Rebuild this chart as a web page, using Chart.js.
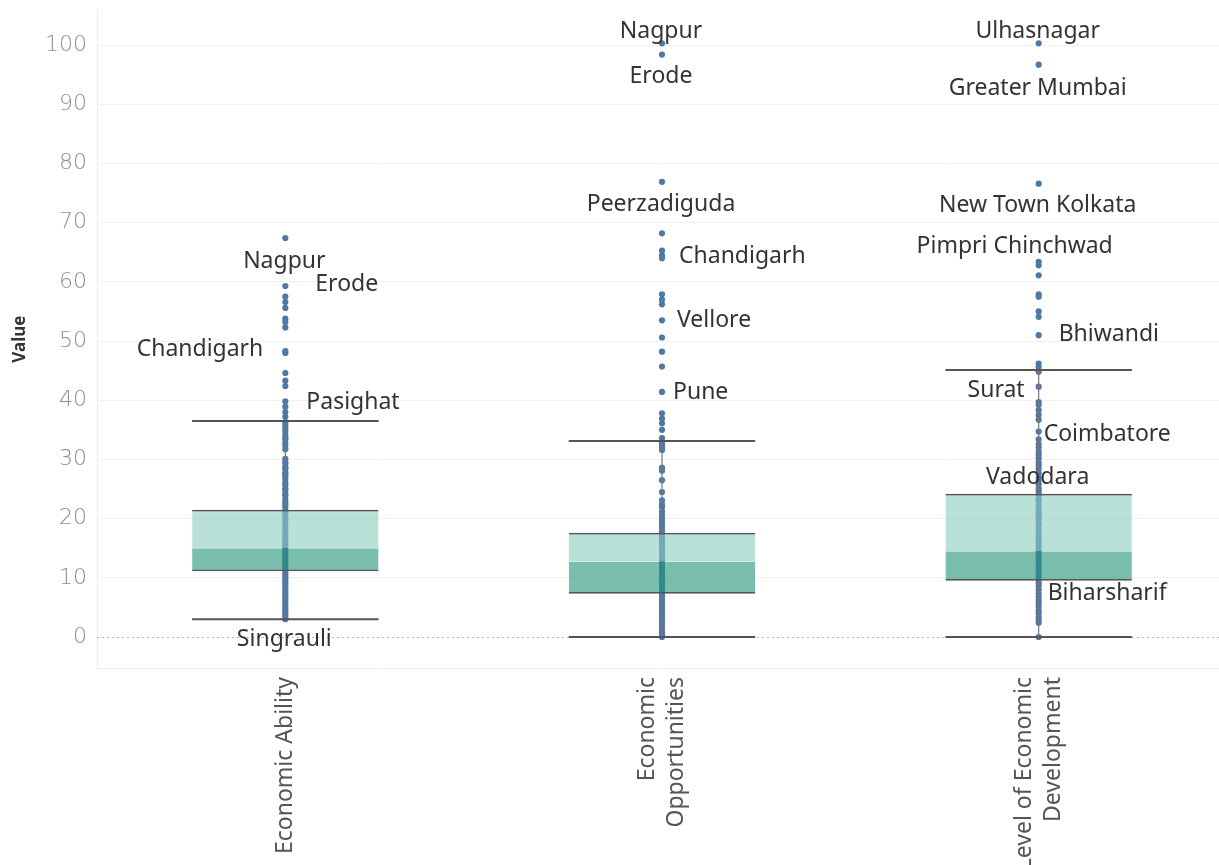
<!DOCTYPE html>
<html>
<head>
<meta charset="utf-8">
<script src="https://cdn.jsdelivr.net/npm/chart.js@4.4.1/dist/chart.umd.min.js"></script>
<style>
  html, body { margin: 0; padding: 0; background: #fff; overflow: hidden; }
  #wrap { width: 1231px; height: 865px; }
</style>
</head>
<body>
<div id="wrap"><canvas id="chart" width="1231" height="865"></canvas></div>
<script>
// Indicator categories (x axis), one line per array entry
const categories = ['Economic Ability', 'Economic Opportunities', 'Level of Economic Development'];
const categoryLines = [['Economic Ability'], ['Economic', 'Opportunities'], ['Level of Economic', 'Development']];

// City scores per indicator
const economicAbility = [67.4, 59.3, 57.5, 56.6, 55.6, 53.8, 53.2, 52.3, 48.3, 48.0, 44.6, 43.3, 42.4, 39.8, 38.9, 38.0, 37.2,
  36.3, 35.8, 35.3, 34.9, 34.2, 33.7, 33.4, 32.8, 32.3, 31.7, 30.1, 29.6, 29.3, 28.7, 28.4, 27.8, 27.5, 27.1, 26.6, 26.0,
  25.7, 25.1, 24.8, 24.2, 23.9, 23.3, 22.8, 22.4, 21.9, 21.3, 20.9, 20.2, 19.8, 19.1, 18.7, 18.0, 17.6, 17.1, 16.5, 16.0,
  15.6, 15.1, 14.7, 14.2, 13.8, 13.3, 12.9, 12.4, 11.9, 11.5, 11.0, 10.6, 10.1, 9.7, 9.2, 8.8, 8.3, 7.9, 7.4, 6.9, 6.5,
  6.0, 5.6, 5.1, 4.7, 4.2, 3.8, 3.4, 3.0];
const economicOpportunities = [100.3, 98.4, 76.9, 68.2, 65.3, 64.5, 64.0, 57.9, 57.0, 56.2, 53.5, 50.6, 48.2, 45.7, 41.4,
  37.8, 36.9, 36.1, 35.0, 33.6, 32.9, 32.5, 32.0, 31.6, 28.6, 28.1, 26.5, 24.5, 23.1, 22.4, 21.9, 21.2, 20.6, 20.0, 19.5,
  19.0, 18.4, 17.9, 17.3, 16.8, 16.2, 15.7, 15.1, 14.6, 14.0, 13.5, 12.9, 12.4, 11.8, 11.3, 10.7, 10.2, 9.6, 9.1, 8.5,
  8.0, 7.4, 6.9, 6.3, 5.8, 5.2, 4.7, 4.1, 3.6, 3.0, 2.5, 1.9, 1.4, 0.8, 0.3, 0.0];
const levelOfDevelopment = [100.3, 96.7, 76.6, 63.4, 62.8, 61.1, 57.9, 57.5, 55.0, 54.1, 51.0, 46.2, 45.6, 44.8, 42.3,
  39.7, 39.2, 38.3, 37.5, 36.7, 34.7, 33.4, 32.6, 32.0, 31.3, 30.8, 30.2, 29.5, 29.0, 28.4, 27.7, 26.9, 26.4, 25.8, 25.1,
  24.6, 24.0, 23.4, 22.9, 22.2, 21.7, 21.0, 20.5, 19.9, 19.3, 18.8, 18.1, 17.6, 17.0, 16.4, 15.9, 15.3, 14.7, 14.2, 13.6,
  13.1, 12.5, 11.9, 11.4, 10.8, 10.3, 9.7, 9.1, 8.6, 8.0, 7.3, 6.8, 6.2, 5.7, 5.1, 4.5, 4.0, 3.4, 2.9, 2.4, 0.0];

// Box plot statistics per indicator
const whiskerLow  = [3.0, 0.0, 0.0];
const quartile1   = [11.1, 7.3, 9.5];
const median      = [15.0, 12.7, 14.5];
const quartile3   = [21.5, 17.6, 24.2];
const whiskerHigh = [36.5, 33.1, 45.1];

// Named cities (category index, name, score)
const labelCategory = [0, 0, 0, 0, 0, 1, 1, 1, 1, 1, 1, 2, 2, 2, 2, 2, 2, 2, 2, 2];
const labelText = ['Nagpur', 'Erode', 'Chandigarh', 'Pasighat', 'Singrauli',
  'Nagpur', 'Erode', 'Peerzadiguda', 'Chandigarh', 'Vellore', 'Pune',
  'Ulhasnagar', 'Greater Mumbai', 'New Town Kolkata', 'Pimpri Chinchwad', 'Bhiwandi', 'Surat', 'Coimbatore', 'Vadodara', 'Biharsharif'];
const labelValue = [67.4, 59.3, 48.3, 39.8, 3.0,
  100.3, 98.4, 76.9, 64.5, 53.5, 41.4,
  100.3, 96.7, 76.6, 63.4, 51.0, 42.3, 34.7, 26.9, 7.3];

// y tick values
const yTicks = [0, 10, 20, 30, 40, 50, 60, 70, 80, 90, 100];

// Label placement: [align, dx, dy] relative to the point
const labelPlacement = [
  ['center', -1, 23], ['left', 30, -2], ['right', -22, -2], ['left', 21, 1], ['center', -1, 20],
  ['center', -1, -12], ['center', -1, 22], ['center', -1, 23], ['left', 17, 1], ['left', 15, 0], ['left', 11, 0],
  ['center', -1, -12], ['center', -1, 24], ['center', -1, 22], ['center', -24, -15], ['left', 20, -1], ['right', -14, 4],
  ['left', 5, 3], ['center', -1, 0], ['left', 9, 0]
];

const series = [economicAbility, economicOpportunities, levelOfDevelopment];
const pointColor = '#4e79a7';
const LABEL_FONT = '23px "Noto Sans", "Open Sans", sans-serif';

const scatterSets = series.map((vals, i) => ({
  type: 'scatter',
  data: vals.map(v => ({ x: categories[i], y: v })),
  backgroundColor: pointColor,
  borderColor: pointColor,
  borderWidth: 0,
  pointRadius: 3.1,
  order: 3
}));

const upperBox = {
  type: 'bar',
  data: categories.map((c, i) => [median[i], quartile3[i]]),
  backgroundColor: 'rgba(138,205,190,0.6)',
  borderColor: '#555',
  borderWidth: { top: 1.8, bottom: 0, left: 0, right: 0 },
  borderSkipped: false,
  grouped: false,
  barPercentage: 0.495,
  categoryPercentage: 1,
  order: 1
};
const lowerBox = {
  type: 'bar',
  data: categories.map((c, i) => [quartile1[i], median[i]]),
  backgroundColor: 'rgba(33,147,120,0.6)',
  borderColor: '#555',
  borderWidth: { top: 0, bottom: 1.8, left: 0, right: 0 },
  borderSkipped: false,
  grouped: false,
  barPercentage: 0.495,
  categoryPercentage: 1,
  order: 1
};

// Dotted zero baseline
const zeroLine = {
  id: 'zeroLine',
  beforeDatasetsDraw(chart) {
    const { ctx, chartArea, scales } = chart;
    const y = Math.round(scales.y.getPixelForValue(0)) + 0.5;
    ctx.save();
    ctx.strokeStyle = '#b5b5b5';
    ctx.lineWidth = 1;
    ctx.setLineDash([2, 3]);
    ctx.beginPath();
    ctx.moveTo(chartArea.left, y);
    ctx.lineTo(chartArea.right, y);
    ctx.stroke();
    ctx.restore();
  }
};

// Whisker stems and caps
const whiskers = {
  id: 'whiskers',
  afterDatasetsDraw(chart) {
    const { ctx, scales } = chart;
    const boxMeta = chart.getDatasetMeta(0);
    ctx.save();
    categories.forEach((c, i) => {
      const x = scales.x.getPixelForValue(i);
      const half = boxMeta.data[i].width / 2;
      const yHi = scales.y.getPixelForValue(whiskerHigh[i]);
      const yLo = scales.y.getPixelForValue(whiskerLow[i]);
      const yQ3 = scales.y.getPixelForValue(quartile3[i]);
      const yQ1 = scales.y.getPixelForValue(quartile1[i]);
      ctx.strokeStyle = '#777';
      ctx.lineWidth = 1.2;
      ctx.beginPath();
      ctx.moveTo(x, yHi); ctx.lineTo(x, yQ3);
      ctx.moveTo(x, yQ1); ctx.lineTo(x, yLo);
      ctx.stroke();
      ctx.strokeStyle = '#555';
      ctx.lineWidth = 2;
      ctx.beginPath();
      ctx.moveTo(x - half, yHi); ctx.lineTo(x + half, yHi);
      ctx.moveTo(x - half, yLo); ctx.lineTo(x + half, yLo);
      ctx.stroke();
    });
    ctx.restore();
  }
};

// City name labels
const cityLabels = {
  id: 'cityLabels',
  afterDatasetsDraw(chart) {
    const { ctx, scales } = chart;
    ctx.save();
    ctx.font = LABEL_FONT;
    ctx.fillStyle = '#333';
    ctx.textBaseline = 'middle';
    labelText.forEach((t, k) => {
      const [align, dx, dy] = labelPlacement[k];
      const x = scales.x.getPixelForValue(labelCategory[k]);
      const y = scales.y.getPixelForValue(labelValue[k]);
      ctx.textAlign = align;
      ctx.fillText(t, x + dx, y + dy);
    });
    ctx.restore();
  }
};

// Vertical category names below the axis, lines centred on each category
const categoryTitles = {
  id: 'categoryTitles',
  afterDraw(chart) {
    const { ctx, scales, chartArea } = chart;
    const lineGap = 29;
    ctx.save();
    ctx.font = LABEL_FONT;
    ctx.fillStyle = '#555';
    ctx.textAlign = 'right';
    ctx.textBaseline = 'middle';
    categoryLines.forEach((lines, i) => {
      const x = scales.x.getPixelForValue(i);
      lines.forEach((line, j) => {
        const off = (j - (lines.length - 1) / 2) * lineGap;
        ctx.save();
        ctx.translate(x + off, chartArea.bottom + 9);
        ctx.rotate(-Math.PI / 2);
        ctx.fillText(line, 0, 0);
        ctx.restore();
      });
    });
    ctx.restore();
  }
};

new Chart(document.getElementById('chart'), {
  type: 'bar',
  data: {
    labels: categories,
    datasets: [upperBox, lowerBox, ...scatterSets]
  },
  options: {
    responsive: false,
    animation: false,
    layout: { padding: { top: 10, left: 0, right: 0, bottom: 0 } },
    plugins: { legend: { display: false }, tooltip: { enabled: false } },
    scales: {
      x: {
        type: 'category',
        offset: true,
        grid: { display: false },
        border: { display: true, color: '#ececec' },
        ticks: { display: false },
        afterFit(scale) { scale.height = 197; }
      },
      y: {
        min: -5.24,
        max: 105.9,
        grid: {
          drawTicks: false,
          color: ctx => (ctx.tick && ctx.tick.value === 0) ? 'rgba(0,0,0,0)' : '#f0f0f0'
        },
        border: { display: true, color: '#ececec' },
        ticks: {
          stepSize: 10,
          padding: 10,
          color: '#8e8e8e',
          font: { family: '"DejaVu Sans", sans-serif', size: 22, weight: 200, lineHeight: 0.02 }
        },
        afterBuildTicks(scale) {
          scale.ticks = yTicks.map(v => ({ value: v }));
        },
        title: {
          display: true,
          text: 'Value',
          color: '#333',
          font: { family: '"Noto Sans", sans-serif', size: 17, weight: 'bold' },
          padding: { top: 10, bottom: 0 }
        },
        afterFit(scale) { scale.width = 97; }
      }
    }
  },
  plugins: [zeroLine, whiskers, cityLabels, categoryTitles]
});
</script>
</body>
</html>
